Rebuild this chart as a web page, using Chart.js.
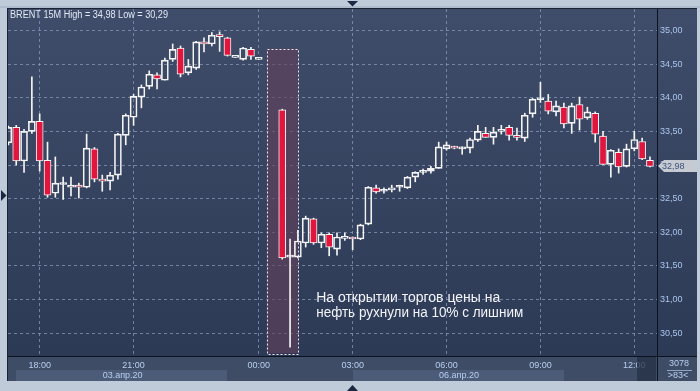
<!DOCTYPE html>
<html lang="ru">
<head>
<meta charset="UTF-8">
<title>BRENT 15M</title>
<script src="https://cdn.jsdelivr.net/npm/chart.js"></script>
<style>
  html, body { margin: 0; padding: 0; background: #c0cbd9; }
  canvas { display: block; }
</style>
</head>
<body>
<canvas id="myChart" width="700" height="391"></canvas>
<script>
    // номер бара (15 минут) и OHLC
    const slots  = [-4,-3,-2,-1,0,1,2,3,4,5,6,7,8,9,10,11,12,13,14,15,16,17,18,19,20,21,22,23,24,25,26,27,28,
                    31,32,33,34,35,36,37,38,39,40,41,42,43,44,45,46,47,48,49,50,51,52,53,54,55,56,57,58,59,60,
                    61,62,63,64,65,66,67,68,69,70,71,72,73,74,75,76,77,78];
    const opens  = [33.33,33.56,33.06,33.50,33.65,33.07,32.58,32.71,32.67,32.70,32.67,33.24,32.79,32.76,32.85,33.44,33.71,34.01,34.17,34.34,34.26,34.57,34.74,34.37,34.44,34.83,34.80,34.94,34.89,34.60,34.57,34.72,34.57,
                    33.82,31.63,31.63,31.84,32.20,31.84,31.97,31.75,31.91,31.93,31.90,32.12,32.66,32.61,32.63,32.67,32.66,32.82,32.89,32.91,32.95,33.24,33.27,33.24,33.25,33.37,33.47,33.41,33.50,33.56,
                    33.44,33.40,33.76,33.97,33.95,33.79,33.86,33.62,33.90,33.70,33.77,33.43,33.01,33.19,32.98,33.24,33.35,33.07];
    const highs  = [33.58,33.59,33.53,34.31,33.76,33.34,33.12,32.82,32.82,32.73,33.46,33.26,32.85,32.89,33.47,33.76,34.05,34.19,34.40,34.37,34.59,34.80,34.77,34.57,34.84,34.89,34.97,34.98,34.90,34.60,34.75,34.75,34.57,
                    33.83,31.90,32.03,32.24,32.21,31.99,31.99,31.99,31.99,31.93,32.12,32.68,32.70,32.66,32.70,32.70,32.83,32.90,32.94,32.98,33.34,33.34,33.28,33.27,33.40,33.59,33.56,33.56,33.59,33.59,
                    33.55,33.77,33.99,34.23,34.05,33.95,33.92,33.92,34.01,33.86,33.79,33.50,33.23,33.24,33.31,33.50,33.40,33.12];
    const lows   = [33.30,33.00,32.89,33.47,32.91,32.52,32.52,32.49,32.54,32.51,32.66,32.75,32.61,32.63,32.79,33.30,33.59,33.85,34.13,34.13,34.26,34.54,34.31,34.34,34.42,34.68,34.77,34.69,34.62,34.60,34.56,34.57,34.57,
                    31.60,30.29,31.62,31.78,31.82,31.77,31.65,31.66,31.88,31.74,31.89,32.11,32.58,32.58,32.60,32.61,32.65,32.75,32.86,32.88,32.95,33.22,33.24,33.16,33.18,33.35,33.41,33.31,33.46,33.37,
                    33.37,33.35,33.71,33.93,33.76,33.73,33.55,33.47,33.52,33.68,33.34,33.01,32.82,32.88,32.97,33.21,33.08,32.97];
    const closes = [33.56,33.06,33.50,33.65,33.06,32.55,32.73,32.72,32.70,32.67,33.25,32.79,32.76,32.85,33.46,33.74,34.02,34.16,34.35,34.28,34.56,34.72,34.35,34.47,34.83,34.80,34.93,34.91,34.63,34.60,34.74,34.62,34.57,
                    31.62,31.63,31.87,32.21,31.84,31.97,31.78,31.93,31.94,31.90,32.11,32.67,32.60,32.62,32.66,32.68,32.82,32.89,32.90,32.95,33.27,33.30,33.25,33.25,33.38,33.50,33.41,33.49,33.52,33.44,
                    33.41,33.74,33.98,33.98,33.80,33.88,33.61,33.88,33.68,33.79,33.46,33.01,33.22,32.97,33.24,33.38,33.09,32.98];

    // подписи осей
    const xTickSlots  = [0, 12, 28, 40, 52, 64, 76];
    const xTickLabels = ['18:00', '21:00', '00:00', '03:00', '06:00', '09:00', '12:00'];
    const yTicks      = [30.5, 31, 31.5, 32, 32.5, 33, 33.5, 34, 34.5, 35];
    const dateLabels  = ['03.апр.20', '06.апр.20'];
    const dateSlots   = [10.6, 53.6];

    // выделенная область и подпись
    const boxSlots  = [29, 33];
    const boxPrices = [30.20, 34.73];
    const noteLines = ['На открытии торгов цены на', 'нефть рухнули на 10% с лишним'];
    const noteWidth = [184, 207];
    const noteSlot  = 35.34;
    const notePrice = 30.96;

    const RED = '#e0163e';
    const fmt = v => v.toFixed(2).replace('.', ',');

    const lowerWick = slots.map((k, i) => ({ x: k, y: [lows[i], Math.min(opens[i], closes[i])] }));
    const upperWick = slots.map((k, i) => ({ x: k, y: [Math.max(opens[i], closes[i]), highs[i]] }));
    const bodies    = slots.map((k, i) => ({ x: k, y: [opens[i], closes[i]] }));
    const bodyColors = slots.map((k, i) => closes[i] >= opens[i] ? 'rgba(0,0,0,0)' : RED);

    const frame = {
        id: 'frame',
        beforeDraw(chart) {
            const c = chart.ctx, a = chart.chartArea;
            c.save();
            c.fillStyle = '#c0cbd9';
            c.fillRect(0, 0, chart.width, chart.height);
            c.fillStyle = '#aebbcc';
            c.fillRect(0, 6, chart.width, 2);
            // тёмная панель
            const g = c.createLinearGradient(0, a.top, 0, a.bottom);
            g.addColorStop(0, '#404d6a');
            g.addColorStop(1, '#2d3a56');
            c.fillStyle = g;
            c.fillRect(a.left, a.top, chart.width - 3 - a.left, a.bottom - a.top);
            // полоса оси времени
            c.fillStyle = '#3f4c66';
            c.fillRect(a.left, a.bottom, chart.width - 3 - a.left, 25);
            c.fillStyle = '#4c5b77';
            c.fillRect(16, a.bottom + 14, 211, 11);
            c.fillRect(353, a.bottom + 14, 211, 11);
            c.restore();
        },
        beforeDatasetsDraw(chart) {
            const c = chart.ctx, x = chart.scales.x, y = chart.scales.y;
            const x0 = x.getPixelForValue(boxSlots[0]), x1 = x.getPixelForValue(boxSlots[1]);
            const y0 = y.getPixelForValue(boxPrices[1]), y1 = y.getPixelForValue(boxPrices[0]);
            c.save();
            c.fillStyle = 'rgba(100,64,90,0.62)';
            c.fillRect(x0, y0, x1 - x0, y1 - y0);
            c.strokeStyle = '#e8e8ee';
            c.lineWidth = 1;
            c.setLineDash([2, 2]);
            c.strokeRect(Math.round(x0) + 0.5, Math.round(y0) + 0.5, Math.round(x1 - x0), Math.round(y1 - y0));
            c.restore();
        },
        afterDraw(chart) {
            const c = chart.ctx, a = chart.chartArea, x = chart.scales.x, y = chart.scales.y;
            c.save();
            // оси
            c.fillStyle = '#0c1220';
            c.fillRect(a.right, a.top, 1, chart.height - 10 - a.top);
            c.fillRect(a.left, a.bottom, chart.width - 3 - a.left, 1);
            c.fillStyle = '#1a2233';
            c.fillRect(a.left - 1, a.top, 1, chart.height - 10 - a.top);
            c.fillRect(a.left - 1, a.top - 1, chart.width - 3 - a.left + 1, 1);
            // текущий бар
            c.fillStyle = 'rgba(36,48,70,0.75)';
            c.fillRect(637, a.bottom + 1, 19, 24);

            // заголовок
            c.fillStyle = '#dfe8f6';
            c.font = '10px "Liberation Sans", Arial, sans-serif';
            c.textBaseline = 'alphabetic';
            c.textAlign = 'left';
            c.fillText('BRENT 15M High = ' + fmt(Math.max(...highs)) + ' Low = ' + fmt(Math.min(...lows)), 10, 18, 158);

            // даты
            c.fillStyle = '#b7cff0';
            c.font = '9px "Liberation Sans", Arial, sans-serif';
            c.textAlign = 'center';
            c.textBaseline = 'middle';
            dateLabels.forEach((t, i) => c.fillText(t, x.getPixelForValue(dateSlots[i]), a.bottom + 20));

            // счётчик
            c.fillText('3078', 679, a.bottom + 8);
            c.fillText('>83<', 678, a.bottom + 20);
            c.fillStyle = '#8ea4c4';
            c.fillRect(667, a.bottom + 14, 25, 1);

            // метка последней цены
            const last = closes[closes.length - 1];
            const py = Math.round(y.getPixelForValue(last));
            c.fillStyle = '#c6cbd3';
            c.beginPath();
            c.moveTo(a.right + 1, py);
            c.lineTo(a.right + 7, py - 6);
            c.lineTo(chart.width - 3, py - 6);
            c.lineTo(chart.width - 3, py + 6);
            c.lineTo(a.right + 7, py + 6);
            c.closePath();
            c.fill();
            c.fillStyle = '#3f5478';
            c.textAlign = 'left';
            c.fillText(fmt(last), a.right + 5, py + 0.5);

            // подпись
            c.fillStyle = '#f2f4f8';
            c.font = '14px "Liberation Sans", Arial, sans-serif';
            c.textBaseline = 'alphabetic';
            const nx = x.getPixelForValue(noteSlot), ny = y.getPixelForValue(notePrice);
            noteLines.forEach((t, i) => c.fillText(t, nx, ny + i * 15, noteWidth[i]));

            // треугольники
            c.fillStyle = '#1b2842';
            c.beginPath(); c.moveTo(347, 1); c.lineTo(358, 1); c.lineTo(352.5, 6.5); c.closePath(); c.fill();
            c.beginPath(); c.moveTo(347, 391); c.lineTo(358, 391); c.lineTo(352.5, 385); c.closePath(); c.fill();
            c.beginPath(); c.moveTo(1, 190); c.lineTo(1, 201); c.lineTo(6.5, 195.5); c.closePath(); c.fill();
            c.restore();
        }
    };

    const ctx = document.getElementById('myChart');
    new Chart(ctx, {
        type: 'bar',
        data: {
            datasets: [
                { data: lowerWick, backgroundColor: '#f4f4f4', barThickness: 1, grouped: false, borderWidth: 0 },
                { data: upperWick, backgroundColor: '#f4f4f4', barThickness: 1, grouped: false, borderWidth: 0 },
                { data: bodies, backgroundColor: bodyColors, borderColor: '#f4f4f4', borderWidth: 1,
                  borderSkipped: false, barThickness: 7, minBarLength: 2, grouped: false }
            ]
        },
        plugins: [frame],
        options: {
            responsive: false,
            animation: false,
            devicePixelRatio: 1,
            layout: { padding: { left: 8, top: 9, right: 3, bottom: 10 } },
            plugins: { legend: { display: false }, tooltip: { enabled: false } },
            scales: {
                x: {
                    type: 'linear', min: -4.05, max: 78.9, offset: false,
                    afterBuildTicks: s => { s.ticks = xTickSlots.map(v => ({ value: v })); },
                    afterFit: s => { s.height = 25; },
                    grid: { color: 'rgba(135,153,186,0.75)', drawTicks: false, offset: false },
                    border: { display: false, dash: [3, 3] },
                    ticks: {
                        autoSkip: false, maxRotation: 0, padding: 4, color: '#b7cff0',
                        font: { family: '"Liberation Sans", Arial, sans-serif', size: 9 },
                        callback: v => xTickLabels[xTickSlots.indexOf(v)]
                    }
                },
                y: {
                    position: 'right', min: 30.16, max: 35.32, beginAtZero: false,
                    afterBuildTicks: s => { s.ticks = yTicks.map(v => ({ value: v })); },
                    afterFit: s => { s.width = 40; },
                    grid: { color: 'rgba(135,153,186,0.75)', drawTicks: false },
                    border: { display: false, dash: [3, 3] },
                    ticks: {
                        padding: 3, color: '#a9c6ee',
                        font: { family: '"Liberation Sans", Arial, sans-serif', size: 9 },
                        callback: v => fmt(v)
                    }
                }
            }
        }
    });
</script>
</body>
</html>
